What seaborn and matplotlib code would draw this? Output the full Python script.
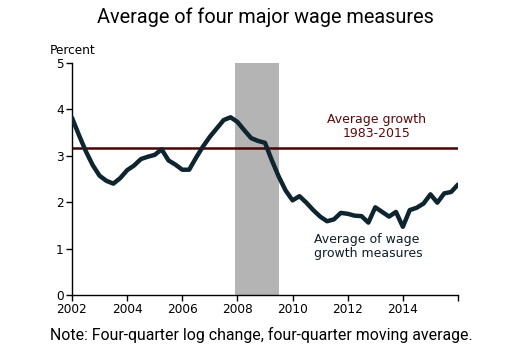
import numpy as np
import pandas as pd
import matplotlib
matplotlib.use("Agg")
import matplotlib.pyplot as plt
import seaborn as sns

# Quarterly wage growth (percent), 2002Q1 .. 2016Q1
quarters = [2002.0 + 0.25 * i for i in range(57)]
wage_growth = [
    3.82, 3.45, 3.10, 2.80, 2.57, 2.46, 2.40, 2.52, 2.69, 2.79,
    2.93, 2.98, 3.02, 3.14, 2.90, 2.81, 2.70, 2.70, 2.96, 3.20,
    3.41, 3.59, 3.77, 3.83, 3.73, 3.55, 3.38, 3.32, 3.28, 2.90,
    2.55, 2.25, 2.04, 2.13, 1.99, 1.83, 1.69, 1.59, 1.63, 1.77,
    1.75, 1.71, 1.70, 1.56, 1.89, 1.79, 1.69, 1.79, 1.47, 1.83,
    1.88, 1.97, 2.17, 1.99, 2.19, 2.22, 2.38,
]
avg_growth = 3.17
recession = [2007.92, 2009.5]
x_ticks = [2002, 2004, 2006, 2008, 2010, 2012, 2014, 2016]
x_labels = ["2002", "2004", "2006", "2008", "2010", "2012", "2014", ""]
y_ticks = [0, 1, 2, 3, 4, 5]

df = pd.DataFrame({"year": quarters, "growth": wage_growth})

sns.set_theme(style="white")
plt.rcParams["font.family"] = ["DejaVu Sans"]

fig = plt.figure(figsize=(5.18, 3.47), dpi=100)
ax = fig.add_axes([72 / 518, 52 / 347, 386 / 518, 232 / 347])

ax.axvspan(recession[0], recession[1], ymin=0, ymax=1, color="#b4b4b4", lw=0, zorder=1)
ax.axhline(avg_growth, color="#4a0404", lw=1.8, zorder=2)
sns.lineplot(data=df, x="year", y="growth", ax=ax, color="#0e2530", lw=3.2, zorder=3)

ax.set_xlim(2002, 2016)
ax.set_ylim(0, 5)
ax.set_xticks(x_ticks)
ax.set_xticklabels(x_labels)
ax.set_yticks(y_ticks)
ax.set_xlabel("")
ax.set_ylabel("")
for s in ["top", "right"]:
    ax.spines[s].set_visible(False)
for s in ["left", "bottom"]:
    ax.spines[s].set_color("black")
    ax.spines[s].set_linewidth(1.0)
ax.tick_params(axis="both", direction="out", length=4, width=1, color="black",
               labelsize=8.7, labelcolor="black", pad=2, bottom=True, left=True)

ax.text(2013.03, 3.64, "Average growth\n1983-2015", ha="center", va="center",
        fontsize=9, color="#5a0a0a", linespacing=1.1)
ax.text(2010.78, 1.05, "Average of wage\ngrowth measures", ha="left", va="center",
        fontsize=9, color="#0e1e28", linespacing=1.1)

fig.text(50 / 518, 1 - 51 / 347, "Percent", ha="left", va="center", fontsize=8.7, color="black")
fig.text(265 / 518, 1 - 17 / 347, "Average of four major wage measures", ha="center", va="center",
         fontsize=14.3, family="Roboto", color="black")
fig.text(261 / 518, 1 - 335 / 347, "Note: Four-quarter log change, four-quarter moving average.",
         ha="center", va="center", fontsize=11.4, family="Roboto", color="black")

fig.savefig("out.png", dpi=100)
